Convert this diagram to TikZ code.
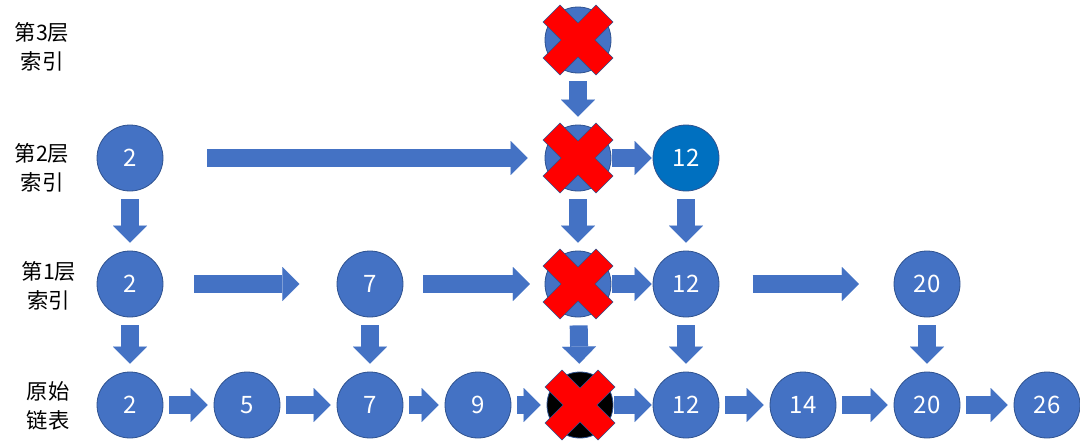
\documentclass[tikz,border=0pt]{standalone}
\usepackage{fontspec}
\setmainfont{Noto Sans CJK SC}
\usepackage{tikz}
\usetikzlibrary{arrows.meta}

\definecolor{nodeblue}{HTML}{4472C4}
\definecolor{nodeedge}{HTML}{2F528F}
\definecolor{topblue}{HTML}{0070C0}

\tikzset{
  key/.style={circle, fill=nodeblue, draw=nodeedge, line width=0.6pt, minimum size=49.5pt,
    inner sep=0pt, text=white, font=\fontsize{18}{20}\selectfont},
  link/.style={draw=nodeblue, line width=13.5pt,
    -{Triangle[width=25.5pt, length=12.75pt, line width=0.01pt]},
    shorten <=4.5pt, shorten >=4.5pt},
  down/.style={link, shorten <=6pt, shorten >=6pt},
  tight/.style={link, shorten <=0.75pt, shorten >=0.75pt},
  layer/.style={align=center, font=\fontsize{16}{21.75}\selectfont},
  redx/.pic={
    \draw[fill=red, draw=nodeedge, line width=0.5pt] (18,35) -- (35,18) -- (17,0) -- (35,-18)
      -- (18,-35) -- (0,-17) -- (-18,-35) -- (-35,-18) -- (-17,0) -- (-35,18)
      -- (-18,35) -- (0,17) -- cycle;
  }
}

\begin{document}
\begin{tikzpicture}[x=0.75pt, y=-0.75pt]
    \useasboundingbox (0,0) rectangle (1080,446);

    % Layer labels
    \node[layer] (lab3) at (42,47) {第3层\\索引};
    \node[layer] (lab2) at (42,168) {第2层\\索引};
    \node[layer] (lab1) at (49,286) {第1层\\索引};
    \node[layer] (lab0) at (48,406) {原始\\链表};

    % Layer 3
    \node[key] (l3x) at (578,40) {};

    % Layer 2
    \node[key] (l2n2) at (130,158) {2};
    \node[key] (l2x) at (578,158) {};
    \node[key, fill=topblue] (l2n12) at (686,158) {12};

    % Layer 1
    \node[key] (l1n2) at (130,284) {2};
    \node[key] (l1n7) at (370,284) {7};
    \node[key] (l1x) at (578,284) {};
    \node[key] (l1n12) at (686,284) {12};
    \node[key] (l1n20) at (927,284) {20};

    % Original list
    \node[key] (l0n2) at (130,405) {2};
    \node[key] (l0n5) at (247,405) {5};
    \node[key] (l0n7) at (370,405) {7};
    \node[key] (l0n9) at (478,405) {9};
    \node[key, fill=black] (l0x) at (580,405) {};
    \node[key] (l0n12) at (686,405) {12};
    \node[key] (l0n14) at (803,405) {14};
    \node[key] (l0n20) at (927,405) {20};
    \node[key] (l0n26) at (1047,405) {26};

    % Layer 3 -> 2
    \draw[down] (l3x) -- (l2x);

    % Layer 2 links
    \draw[link, shorten <=33pt, shorten >=12.75pt] (l2n2) -- (l2x);
    \draw[tight] (l2x) -- (l2n12);

    % Layer 2 -> 1
    \draw[down] (l2n2) -- (l1n2);
    \draw[down] (l2x) -- (l1x);
    \draw[down] (l2n12) -- (l1n12);

    % Layer 1 links
    \draw[link, shorten <=23pt, shorten >=28pt] (l1n2) -- (l1n7);
    \draw[link, shorten <=15pt, shorten >=11pt] (l1n7) -- (l1x);
    \draw[tight] (l1x) -- (l1n12);
    \draw[link, shorten <=25pt, shorten >=26pt] (l1n12) -- (l1n20);

    % Layer 1 -> original list
    \draw[down] (l1n2) -- (l0n2);
    \draw[down] (l1n7) -- (l0n7);
    \draw[down] (l1x) -- (l0x);
    \draw[down] (l1n12) -- (l0n12);
    \draw[down] (l1n20) -- (l0n20);

    % Original list links
    \draw[link] (l0n2) -- (l0n5);
    \draw[link] (l0n5) -- (l0n7);
    \draw[link] (l0n7) -- (l0n9);
    \draw[link] (l0n9) -- (l0x);
    \draw[tight] (l0x) -- (l0n12);
    \draw[link] (l0n12) -- (l0n14);
    \draw[link] (l0n14) -- (l0n20);
    \draw[link] (l0n20) -- (l0n26);

    % Deleted nodes
    \pic at (l3x) {redx};
    \pic at (l2x) {redx};
    \pic at (l1x) {redx};
    \pic at (l0x) {redx};
\end{tikzpicture}
\end{document}
